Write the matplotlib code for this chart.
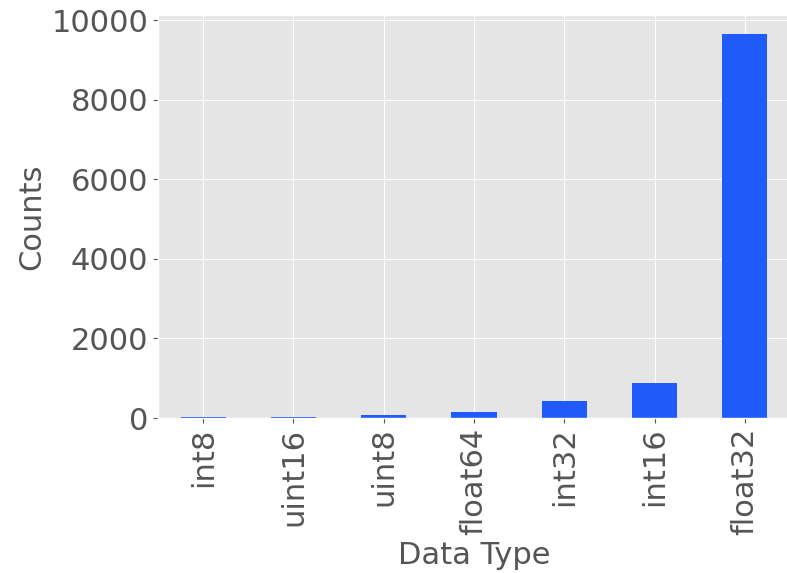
import matplotlib
matplotlib.use('Agg')
import matplotlib.pyplot as plt
import pandas as pd

plt.style.use('ggplot')

dtypes = ['int8', 'uint16', 'uint8', 'float64', 'int32', 'int16', 'float32']
counts = [30, 25, 65, 150, 425, 875, 9650]


def main():
	s = pd.Series(counts, index=dtypes)
	fig = plt.figure(figsize=(7.87, 5.73), dpi=100)
	ax = fig.add_axes([158/787, 1-418/573, 632/787, (418-15)/573])
	s.plot(kind='bar', ax=ax, color='#1e5bfa', fontsize=22)
	ax.set_xlabel('Data Type', fontsize=22)
	ax.set_ylabel('Counts', fontsize=22)
	fig.savefig('out.png', dpi=100)


if __name__ == '__main__':
	main()
